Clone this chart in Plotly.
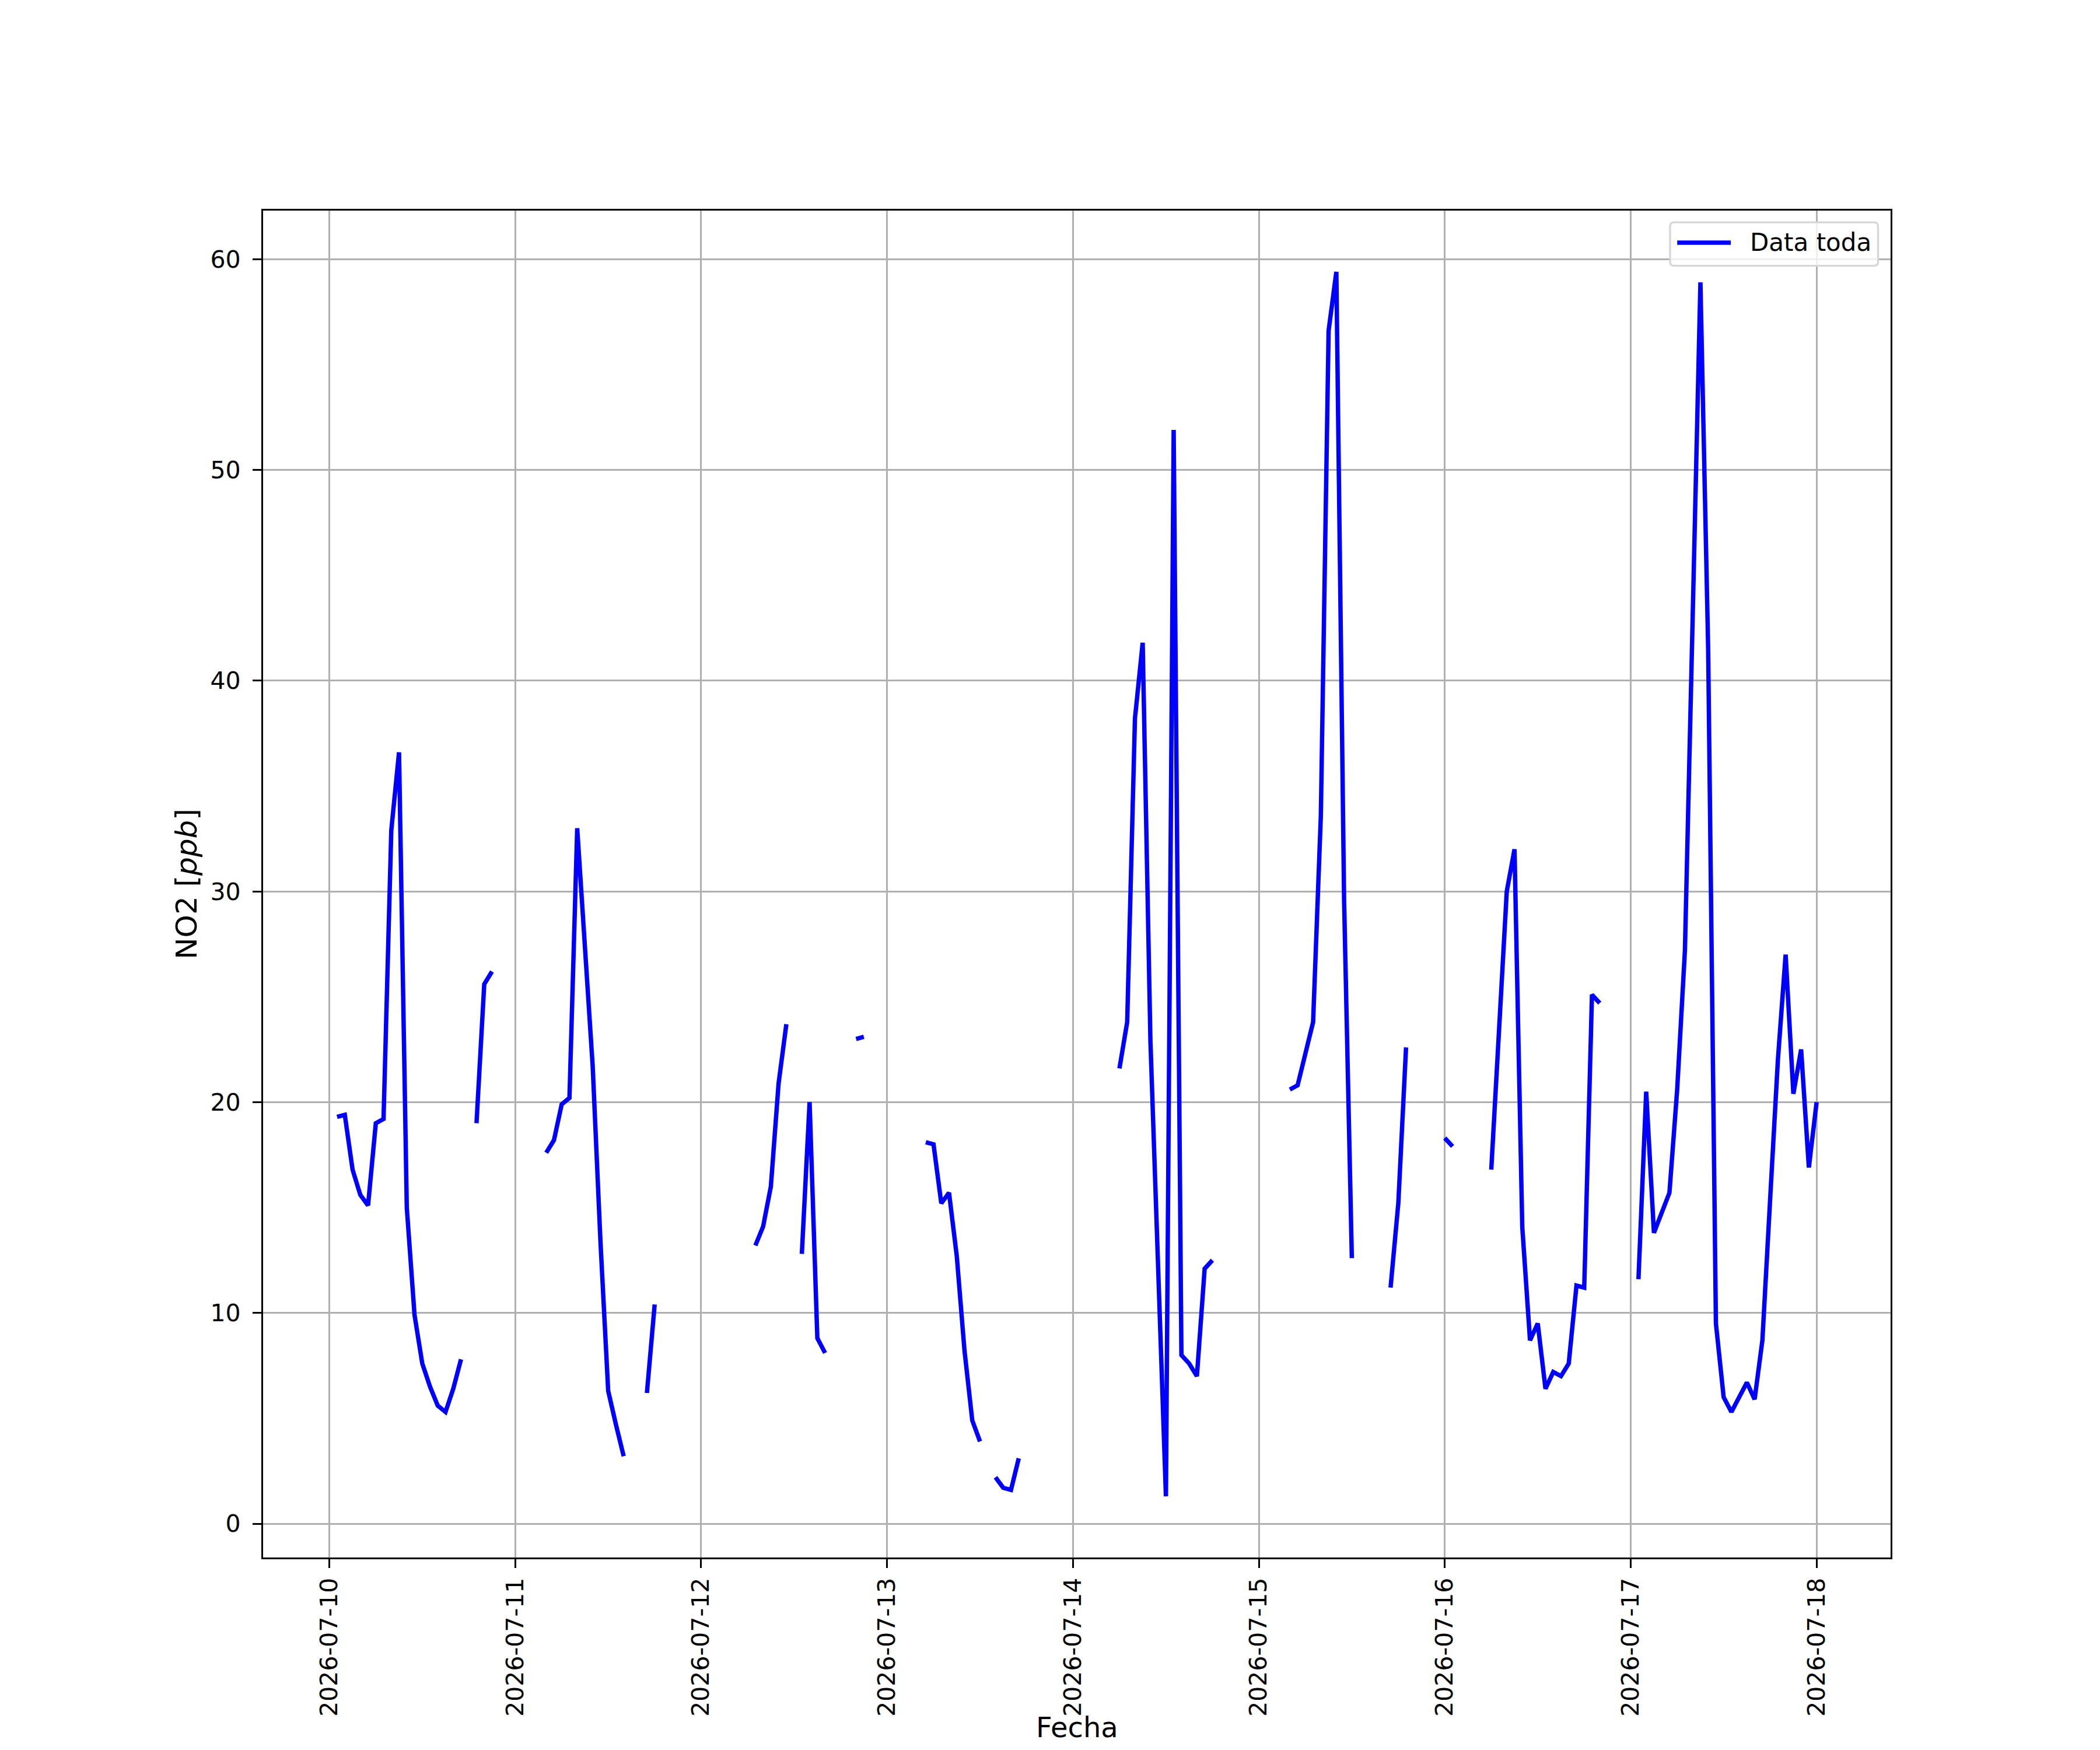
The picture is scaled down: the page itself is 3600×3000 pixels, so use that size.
import pandas as pd
import plotly.graph_objects as go

# hourly NO2 (ppb), one list per day, hours 00..23 ; None = no data
no2_0710 = [None, 19.3, 19.4, 16.8, 15.6, 15.1, 19.0, 19.2, 32.9, 36.6, 15.0, 9.9,
            7.6, 6.5, 5.6, 5.3, 6.4, 7.8, None, 19.0, 25.6, 26.2, None, None]
no2_0711 = [None, None, None, None, 17.6, 18.2, 19.9, 20.2, 33.0, 27.7, 21.7, 13.4,
            6.3, 4.7, 3.2, None, None, 6.2, 10.4, None, None, None, None, None]
no2_0712 = [None, None, None, None, None, None, None, 13.2, 14.1, 16.0, 20.9, 23.7,
            None, 12.8, 20.0, 8.8, 8.1, None, None, None, 23.0, 23.1, None, None]
no2_0713 = [None, None, None, None, None, 18.1, 18.0, 15.2, 15.7, 12.7, 8.2, 4.9,
            3.9, None, 2.2, 1.7, 1.6, 3.1, None, None, None, None, None, None]
no2_0714 = [None, None, None, None, None, None, 21.6, 23.8, 38.2, 41.8, 22.9, 11.5,
            1.3, 51.9, 8.0, 7.6, 7.0, 12.1, 12.5, None, None, None, None, None]
no2_0715 = [None, None, None, None, 20.6, 20.8, 22.3, 23.8, 33.6, 56.6, 59.4, 29.6,
            12.6, None, None, None, None, 11.2, 15.2, 22.6, None, None, None, None]
no2_0716 = [18.3, 17.9, None, None, None, None, 16.8, 23.3, 30.0, 32.0, 14.1, 8.7,
            9.5, 6.4, 7.2, 7.0, 7.6, 11.3, 11.2, 25.1, 24.7, None, None, None]
no2_0717 = [None, 11.6, 20.5, 13.8, 14.7, 15.7, 20.6, 27.2, 43.0, 58.9, 41.5, 9.5,
            6.0, 5.3, 6.0, 6.7, 5.9, 8.7, 15.4, 22.0, 27.0, 20.4, 22.5, 16.9]
no2_0718 = [20.0]

serie = no2_0710 + no2_0711 + no2_0712 + no2_0713 + no2_0714 + no2_0715 + no2_0716 + no2_0717 + no2_0718
fechas = pd.date_range("2026-07-10 00:00", periods=len(serie), freq="h")
df = pd.DataFrame({"fecha": fechas, "no2": serie})

# matplotlib-like 5% margins
ok = df.dropna()
t0, t1 = ok.fecha.min(), ok.fecha.max()
dt = (t1 - t0) * 0.05
y0, y1 = ok.no2.min(), ok.no2.max()
dy = (y1 - y0) * 0.05

# page body has an 8px margin, so the figure is 16px smaller than the window
W, H = 3584, 2984
ML, MR, MT, MB = 442.5, 351.3, 352.7, 322
FONT = "DejaVu Sans"

fig = go.Figure()
fig.add_trace(go.Scatter(x=df.fecha, y=df.no2, mode="lines", name="Data toda",
                         connectgaps=False, showlegend=False,
                         line=dict(color="#0000ff", width=7.5)))

axis_common = dict(showgrid=True, gridcolor="#b0b0b0", gridwidth=3.3,
                   showline=True, linecolor="black", linewidth=3.3, mirror=True,
                   ticks="outside", ticklen=15, tickwidth=3.3, tickcolor="black",
                   zeroline=False, tickfont=dict(family=FONT, size=41, color="black"),
                   automargin=False)

fig.update_xaxes(range=[t0 - dt, t1 + dt], tickmode="linear", tick0="2026-07-10",
                 dtick=86400000, tickformat="%Y-%m-%d", tickangle=-90,
                 ticklabelstandoff=0, **axis_common)
fig.update_yaxes(range=[y0 - dy, y1 + dy], tickmode="linear", tick0=0, dtick=10,
                 ticklabelstandoff=12,
                 title=dict(text="NO2 [<i>ppb</i>]",
                            font=dict(family=FONT, size=50, color="black"),
                            standoff=7),
                 **axis_common)

# x title sits at the very bottom, under the rotated date labels
fig.add_annotation(text="Fecha", xref="paper", yref="paper", x=0.5, y=0,
                   xanchor="center", yanchor="bottom", yshift=-(MB - 1), showarrow=False,
                   font=dict(family=FONT, size=48, color="black"))

# legend box drawn by hand (matplotlib style, upper right)
lx0, lx1 = 0.8645, 0.9923
ly0, ly1 = 0.9590, 0.9913
rx, ry = 7 / (W - ML - MR), 7 / (H - MT - MB)
box = (f"M {lx0+rx},{ly1} L {lx1-rx},{ly1} Q {lx1},{ly1} {lx1},{ly1-ry} "
       f"L {lx1},{ly0+ry} Q {lx1},{ly0} {lx1-rx},{ly0} L {lx0+rx},{ly0} "
       f"Q {lx0},{ly0} {lx0},{ly0+ry} L {lx0},{ly1-ry} Q {lx0},{ly1} {lx0+rx},{ly1} Z")
fig.add_shape(type="path", path=box, xref="paper", yref="paper",
              fillcolor="rgba(255,255,255,0.8)", line=dict(color="#d6d6d6", width=3.3),
              layer="above")
ly = 0.9762
fig.add_shape(type="line", xref="paper", yref="paper", x0=0.8689, x1=0.9018, y0=ly, y1=ly,
              line=dict(color="#0000ff", width=7.5), layer="above")
fig.add_annotation(text="Data toda", xref="paper", yref="paper", x=0.9128, y=ly,
                   xanchor="left", yanchor="middle", showarrow=False,
                   font=dict(family=FONT, size=42, color="black"))

fig.update_layout(width=W, height=H, plot_bgcolor="white", paper_bgcolor="white",
                  margin=dict(l=ML, r=MR, t=MT, b=MB, pad=0),
                  font=dict(family=FONT, color="black"))

fig.write_html("out.html")
